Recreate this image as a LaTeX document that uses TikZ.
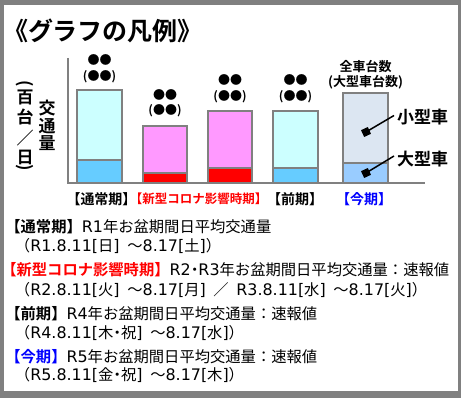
\documentclass[tikz,border=0pt]{standalone}
\usepackage{fontspec}
\setmainfont{Noto Sans CJK JP}[BoldFont={Noto Sans CJK JP Bold}]
\newfontfamily\latfont{DejaVu Sans}[Scale=1.04]
\definecolor{framegray}{HTML}{808080}
\definecolor{cyanlight}{HTML}{CCFFFF}
\definecolor{bluemid}{HTML}{66CCFF}
\definecolor{pinklight}{HTML}{FF99FF}
\definecolor{redfull}{HTML}{FF0000}
\definecolor{greyblue}{HTML}{DCE6F2}
\definecolor{bluesoft}{HTML}{99CCFF}
\definecolor{bluetext}{HTML}{0000FF}
\newcommand\fs[1]{\fontsize{#1}{#1}\selectfont}
\newcommand\La[1]{{\latfont #1}}
\newcommand\Sp{\hspace{0.5em}}
\newcommand\HB{{\addfontfeatures{RawFeature=+halt}【}}
\newcommand\HD{{\addfontfeatures{RawFeature=+halt}・}}
\tikzset{
  every node/.style={inner sep=0pt, outer sep=0pt},
  barseg/.style={draw=framegray, line width=2pt},
  axisline/.style={draw=framegray, line width=2pt},
  dotlbl/.style={font=\fs{12}\bfseries},
  ylbl/.style={font=\fs{17}\bfseries},
  perlbl/.style={font=\fs{14}\bfseries},
  leglbl/.style={font=\fs{15.3}, anchor=base west},
  marker/.style={fill=black, minimum size=7.5pt, rotate=25},
  callout/.style={line width=1.5pt},
  typelbl/.style={font=\fs{17}\bfseries, anchor=west},
}
\begin{document}
\begin{tikzpicture}[x=1pt, y=-1pt]
\useasboundingbox (0,0) rectangle (461,398);
\fill[framegray] (0,0) rectangle (461,398);
\fill[white] (4,5) rectangle (458,391);

% title
\node[font=\fs{25}\bfseries, anchor=west] (title) at (3,31) {《グラフの凡例》};

% y-axis label
\node[ylbl, rotate=-90] (yp1) at (25,84) {(};
\node[ylbl] (yc1) at (25,97) {百};
\node[ylbl] (yc2) at (25,117) {台};
\node[ylbl] (yc3) at (25,138) {／};
\node[ylbl] (yc4) at (25,157) {日};
\node[ylbl, rotate=-90] (yp2) at (25,168) {)};
\node[ylbl] (yt1) at (47,108) {交};
\node[ylbl] (yt2) at (47,126) {通};
\node[ylbl] (yt3) at (47,143) {量};

% bars
\foreach \a/\b/\t/\d/\ct/\cb in {77/122/90/160/cyanlight/bluemid,
  143/187/126/173/pinklight/redfull,
  208/252/111/168/pinklight/redfull,
  273/318/111/168/cyanlight/bluemid,
  343/388/93/163/greyblue/bluesoft}{
  \filldraw[barseg, fill=\ct] (\a,\t) rectangle (\b,183);
  \filldraw[barseg, fill=\cb] (\a,\d) rectangle (\b,183);
}
% axes
\draw[axisline] (67.5,58) -- (67.5,183.5) -- (425,183.5);

% value placeholders
\node[dotlbl] (v1a) at (99.5,60) {●●};
\node[dotlbl] (v1b) at (99.5,77) {(●●)};
\node[dotlbl] (v2a) at (165,95) {●●};
\node[dotlbl] (v2b) at (165,111) {(●●)};
\node[dotlbl] (v3a) at (230,80) {●●};
\node[dotlbl] (v3b) at (230,97) {(●●)};
\node[dotlbl] (v4a) at (295.5,80) {●●};
\node[dotlbl] (v4b) at (295.5,97) {(●●)};
\node[font=\fs{13}\bfseries] (v5a) at (365.5,67) {全車台数};
\node[font=\fs{13}\bfseries] (v5b) at (365.5,82) {(大型車台数)};

% markers and callouts
\node[marker] (m1) at (366,132) {};
\node[marker] (m2) at (366,173) {};
\node[typelbl] (s1) at (397,117) {小型車};
\node[typelbl] (s2) at (397,159) {大型車};
\coordinate (e1) at (394,115.5);
\coordinate (e2) at (394,156);
\draw[callout] (m1.center) -- (e1);
\draw[callout] (m2.center) -- (e2);

% period labels
\node[perlbl] (p1) at (101.5,199) {【通常期】};
\node[perlbl, font=\fs{12.5}\bfseries, text=redfull] (p2) at (198.5,199) {【新型コロナ影響時期】};
\node[perlbl] (p3) at (295,199) {【前期】};
\node[perlbl, text=bluetext] (p4) at (364,199) {【今期】};

% legend text
\node[leglbl] (l1) at (13,232.6) {\textbf{\HB 通常期】}\La{R1}年お盆期間日平均交通量};
\node[leglbl] (l2) at (15,251.6) {（\La{R1.8.11[}日\La{]}\Sp～\La{8.17[}土\La{]}）};
\node[leglbl] (l3) at (9,275.2) {\textbf{\color{redfull}\HB 新型コロナ影響時期】}\La{R2}\HD\La{R3}年お盆期間日平均交通量：速報値};
\node[leglbl] (l4) at (15,295.2) {（\La{R2.8.11[}火\La{]}\Sp～\La{8.17[}月\La{]}\Sp／\Sp\La{R3.8.11[}水\La{]}\Sp～\La{8.17[}火\La{]}）};
\node[leglbl] (l5) at (13,319.2) {\textbf{\HB 前期】}\La{R4}年お盆期間日平均交通量：速報値};
\node[leglbl] (l6) at (15,338.2) {（\La{R4.8.11[}木\HD 祝\La{]}\Sp～\La{8.17[}水\La{]}）};
\node[leglbl] (l7) at (13,362.6) {\textbf{\color{bluetext}\HB 今期】}\La{R5}年お盆期間日平均交通量：速報値};
\node[leglbl] (l8) at (15,380.9) {（\La{R5.8.11[}金\HD 祝\La{]}\Sp～\La{8.17[}木\La{]}）};
\end{tikzpicture}
\end{document}
